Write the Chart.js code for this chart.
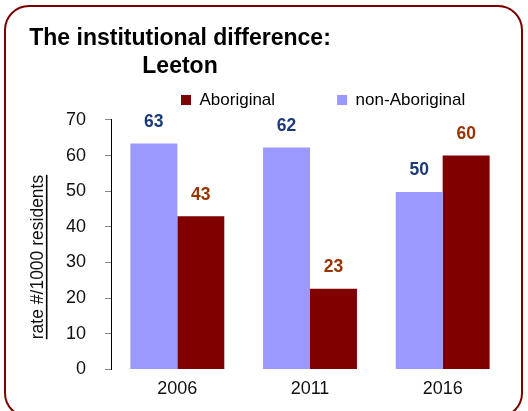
<!DOCTYPE html>
<html>
<head>
<meta charset="utf-8">
<script src="https://cdn.jsdelivr.net/npm/chart.js@4.4.1/dist/chart.umd.min.js"></script>
<style>
  html, body { margin: 0; padding: 0; background: #fff; overflow: hidden; }
  #wrap { position: relative; width: 528px; height: 411px; }
  #frame { position: absolute; left: 4px; top: 5px; width: 519px; height: 413px;
           box-sizing: border-box; border: 2.5px solid #7d0000; border-radius: 25px;
           pointer-events: none; }
  canvas { position: absolute; left: 0; top: 0; }
</style>
</head>
<body>
<div id="wrap">
  <canvas id="c" width="528" height="411"></canvas>
  <div id="frame"></div>
</div>
<script>
const categories = ['2006', '2011', '2016'];
const nonAboriginal = [63.4, 62.3, 49.8];
const aboriginal = [43.0, 22.6, 60.0];
const seriesNames = ['non-Aboriginal', 'Aboriginal'];
const yTicks = [0, 10, 20, 30, 40, 50, 60, 70];
const titleLines = ['The institutional difference:', 'Leeton'];
const yAxisTitle = 'rate #/1000 residents';

const FONT = "'Liberation Sans', Arial, sans-serif";

const labelColors = ['#1c3a78', '#993300'];

const layoutTweaks = {
  id: 'layoutTweaks',
  afterLayout(chart) {
    const t = chart.titleBlock;
    if (t) { t.left = 0; t.right = 360; }
    const lg = chart.legend;
    if (lg) {
      const pad = lg.options.labels.padding;
      lg.left = 181 - pad;
      lg.right = 528;
      lg.top = 91.5 - pad;
    }
  }
};

const extras = {
  id: 'extras',
  afterDatasetsDraw(chart) {
    const ctx = chart.ctx;
    ctx.save();
    ctx.font = "bold 17.5px " + FONT;
    ctx.textAlign = 'center';
    ctx.textBaseline = 'middle';
    chart.data.datasets.forEach((ds, i) => {
      const meta = chart.getDatasetMeta(i);
      ctx.fillStyle = labelColors[i];
      meta.data.forEach((bar, j) => {
        ctx.fillText(String(Math.round(ds.data[j])), bar.x, bar.y - 21.4);
      });
    });
    ctx.restore();
  },
  afterDraw(chart) {
    const ctx = chart.ctx;
    ctx.save();
    ctx.font = "17.5px " + FONT;
    ctx.fillStyle = '#111';
    ctx.textAlign = 'center';
    ctx.textBaseline = 'alphabetic';
    ctx.translate(43.3, 257);
    ctx.rotate(-Math.PI / 2);
    ctx.fillText(yAxisTitle, 0, 0);
    const w = ctx.measureText(yAxisTitle).width;
    ctx.strokeStyle = '#000';
    ctx.lineWidth = 1.6;
    ctx.beginPath();
    ctx.moveTo(-w / 2, 3.4);
    ctx.lineTo(w / 2, 3.4);
    ctx.stroke();
    ctx.restore();
  }
};

new Chart(document.getElementById('c'), {
  type: 'bar',
  data: {
    labels: categories,
    datasets: [
      { label: seriesNames[0], data: nonAboriginal, backgroundColor: '#9999ff', borderWidth: 0 },
      { label: seriesNames[1], data: aboriginal, backgroundColor: '#800000', borderWidth: 0 }
    ]
  },
  options: {
    responsive: false,
    animation: false,
    devicePixelRatio: 1,
    layout: { padding: { left: 0, right: 19, top: 0, bottom: 3 } },
    datasets: { bar: { barPercentage: 1, categoryPercentage: 0.708 } },
    plugins: {
      tooltip: { enabled: false },
      title: {
        display: true,
        text: titleLines,
        color: '#000',
        font: { family: FONT, size: 23, weight: 'bold', lineHeight: 1.23 },
        padding: { top: 24.5, bottom: 0 }
      },
      legend: {
        display: true,
        position: 'top',
        align: 'start',
        reverse: true,
        maxHeight: 38.9,
        labels: {
          boxWidth: 10,
          boxHeight: 10,
          padding: 62,
          color: '#000',
          font: { family: FONT, size: 17 }
        }
      }
    },
    scales: {
      x: {
        grid: { display: false, drawTicks: false, tickLength: 0 },
        border: { display: false },
        ticks: { color: '#111', padding: 8.5, font: { family: FONT, size: 18 } }
      },
      y: {
        min: 0,
        max: 70,
        afterBuildTicks(scale) { scale.ticks = yTicks.map(v => ({ value: v })); },
        afterFit(scale) { scale.width = 111; },
        grid: { display: true, drawOnChartArea: false, drawTicks: true, tickLength: 6, color: '#888' },
        border: { display: true, color: '#000', width: 1 },
        ticks: { color: '#111', padding: 19, font: { family: FONT, size: 18 } }
      }
    }
  },
  plugins: [layoutTweaks, extras]
});
</script>
</body>
</html>
